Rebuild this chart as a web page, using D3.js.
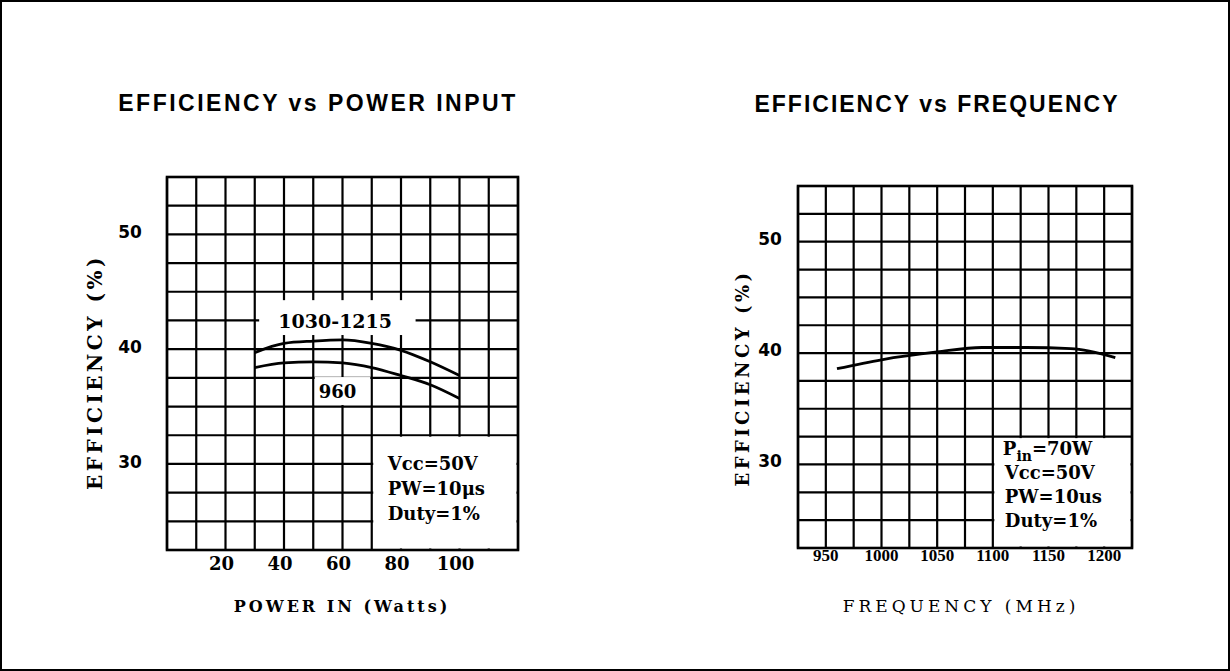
<!DOCTYPE html>
<html>
<meta charset="utf-8">
<script src="https://d3js.org/d3.v7.min.js"></script>
<style>
  body { margin: 0; background: #fff; }
  svg { display: block; }
</style>
<body>
<script>
// values
const powerIn = [30, 40, 50, 60, 70, 80, 90, 100];
const effBand = [39.7, 40.5, 40.7, 40.8, 40.5, 39.9, 38.9, 37.7];   // 1030-1215 MHz
const eff960 = [38.4, 38.8, 38.9, 38.8, 38.4, 37.7, 36.9, 35.7];    // 960 MHz
const freqMHz = [960, 1000, 1050, 1090, 1130, 1170, 1210];
const effFreq = [38.6, 39.4, 40.1, 40.5, 40.5, 40.4, 39.6];

const effTicks = [30, 40, 50];
const powerTicks = [20, 40, 60, 80, 100];
const freqTicks = [950, 1000, 1050, 1100, 1150, 1200];
const legendPower = ['Vcc=50V', 'PW=10\u03bcs', 'Duty=1%'];
const legendFreq = ['Vcc=50V', 'PW=10us', 'Duty=1%'];

const W = 1230, H = 671;
const serif = '"DejaVu Serif", serif';
const sans = '"Liberation Sans", Arial, sans-serif';

const svg = d3.select('body').append('svg')
  .attr('width', W)
  .attr('height', H);

// outer border
svg.append('rect')
  .attr('x', 1).attr('y', 1)
  .attr('width', W - 2).attr('height', H - 2)
  .attr('fill', 'none').attr('stroke', '#000').attr('stroke-width', 2);

// scales
const xP = d3.scaleLinear().domain([0, 120]).range([167, 518]);
const yP = d3.scaleLinear().domain([22.5, 55]).range([550, 177]);
const xF = d3.scaleLinear().domain([925, 1225]).range([798, 1132]);
const yF = d3.scaleLinear().domain([22.5, 55]).range([548, 186]);

function grid(g, x, y, xs) {
  const [x0, x1] = x.range();
  const [y0, y1] = y.range();
  g.selectAll('.vl').data(xs).enter().append('line')
    .attr('x1', d => x(d)).attr('x2', d => x(d))
    .attr('y1', y0).attr('y2', y1)
    .attr('stroke', '#000').attr('stroke-width', 2.2);
  g.selectAll('.hl').data(d3.range(22.5, 55.01, 2.5)).enter().append('line')
    .attr('x1', x0).attr('x2', x1)
    .attr('y1', d => y(d)).attr('y2', d => y(d))
    .attr('stroke', '#000').attr('stroke-width', 2.2);
}

function mask(g, x, y, xa, xb, ya, yb) {
  g.append('rect')
    .attr('x', x(xa) + 1.5).attr('y', y(yb) + 1.5)
    .attr('width', x(xb) - x(xa) - 3)
    .attr('height', y(ya) - y(yb) - 3)
    .attr('fill', '#fff');
}

function frame(g, x, y) {
  const [x0, x1] = x.range();
  const [y0, y1] = y.range();
  g.append('rect')
    .attr('x', x0).attr('y', y1)
    .attr('width', x1 - x0).attr('height', y0 - y1)
    .attr('fill', 'none').attr('stroke', '#000').attr('stroke-width', 2.6);
}

function curve(g, x, y, xs, ys) {
  const line = d3.line()
    .x(d => x(d[0])).y(d => y(d[1]))
    .curve(d3.curveMonotoneX);
  g.append('path')
    .datum(xs.map((v, i) => [v, ys[i]]))
    .attr('d', line)
    .attr('fill', 'none').attr('stroke', '#000').attr('stroke-width', 2.8);
}

// ---------- left: efficiency vs power input ----------
const gl = svg.append('g');
grid(gl, xP, yP, d3.range(0, 121, 10));
mask(gl, xP, yP, 70, 120, 22.5, 32.5);
mask(gl, xP, yP, 31, 85.5, 41.1, 44.4);
mask(gl, xP, yP, 50, 70, 35, 37.7);
curve(gl, xP, yP, powerIn, effBand);
curve(gl, xP, yP, powerIn, eff960);
frame(gl, xP, yP);

gl.append('text')
  .attr('x', xP(57.5)).attr('y', yP(42.5) + 8)
  .attr('text-anchor', 'middle')
  .style('font', `bold 19px ${serif}`)
  .text('1030-1215');
gl.append('text')
  .attr('x', xP(60) - 5).attr('y', yP(36.25) + 6)
  .attr('text-anchor', 'middle')
  .style('font', `bold 18px ${serif}`)
  .text('960');

gl.selectAll('.leg').data(legendPower).enter().append('text')
  .attr('x', xP(70) + 16)
  .attr('y', (d, i) => yP(32.5) + 35 + i * 25)
  .style('font', `bold 18px ${serif}`)
  .text(d => d);

gl.selectAll('.yt').data(effTicks).enter().append('text')
  .attr('x', 130).attr('y', d => yP(d) + 4)
  .attr('text-anchor', 'middle')
  .style('font', 'bold 17px "DejaVu Sans", sans-serif')
  .text(d => d);

gl.selectAll('.xt').data(powerTicks).enter().append('text')
  .attr('x', d => xP(d) - 4).attr('y', 570)
  .attr('text-anchor', 'middle')
  .style('font', `bold 18px ${serif}`)
  .text(d => d);

gl.append('text')
  .attr('x', 342).attr('y', 612)
  .attr('text-anchor', 'middle')
  .style('font', `bold 16px ${serif}`)
  .style('letter-spacing', '3px')
  .text('POWER IN (Watts)');

gl.append('text')
  .attr('transform', 'translate(102,372) rotate(-90)')
  .attr('text-anchor', 'middle')
  .style('font', `bold 20px ${serif}`)
  .style('letter-spacing', '3.5px')
  .text('EFFICIENCY (%)');

svg.append('text')
  .attr('x', 318).attr('y', 111)
  .attr('text-anchor', 'middle')
  .style('font', `bold 23px ${sans}`)
  .style('letter-spacing', '2.5px')
  .text('EFFICIENCY vs POWER INPUT');

// ---------- right: efficiency vs frequency ----------
const gr = svg.append('g');
grid(gr, xF, yF, d3.range(925, 1226, 25));
mask(gr, xF, yF, 1100, 1225, 22.5, 32.5);
curve(gr, xF, yF, freqMHz, effFreq);
frame(gr, xF, yF);

const pin = gr.append('text')
  .attr('x', xF(1100) + 10).attr('y', yF(32.5) + 18)
  .style('font', `bold 18px ${serif}`);
pin.append('tspan').text('P');
pin.append('tspan').attr('dy', 6).style('font-size', '14px').text('in');
pin.append('tspan').attr('dy', -6).text('=70W');

gr.selectAll('.leg').data(legendFreq).enter().append('text')
  .attr('x', xF(1100) + 12)
  .attr('y', (d, i) => yF(32.5) + 42 + i * 24)
  .style('font', `bold 18px ${serif}`)
  .text(d => d);

gr.selectAll('.yt').data(effTicks).enter().append('text')
  .attr('x', 770).attr('y', d => yF(d) + 3)
  .attr('text-anchor', 'middle')
  .style('font', 'bold 17px "DejaVu Sans", sans-serif')
  .text(d => d);

gr.selectAll('.xt').data(freqTicks).enter().append('text')
  .attr('x', d => xF(d)).attr('y', 561)
  .attr('text-anchor', 'middle')
  .style('font', 'bold 17px "Liberation Serif", serif')
  .text(d => d);

gr.append('text')
  .attr('x', 961).attr('y', 612)
  .attr('text-anchor', 'middle')
  .style('font', `17px ${serif}`)
  .style('letter-spacing', '4px')
  .text('FREQUENCY (MHz)');

gr.append('text')
  .attr('transform', 'translate(749,378) rotate(-90)')
  .attr('text-anchor', 'middle')
  .style('font', `bold 18px ${serif}`)
  .style('letter-spacing', '3.5px')
  .text('EFFICIENCY (%)');

svg.append('text')
  .attr('x', 937).attr('y', 112)
  .attr('text-anchor', 'middle')
  .style('font', `bold 23px ${sans}`)
  .style('letter-spacing', '2px')
  .text('EFFICIENCY vs FREQUENCY');
</script>
</body>
</html>
